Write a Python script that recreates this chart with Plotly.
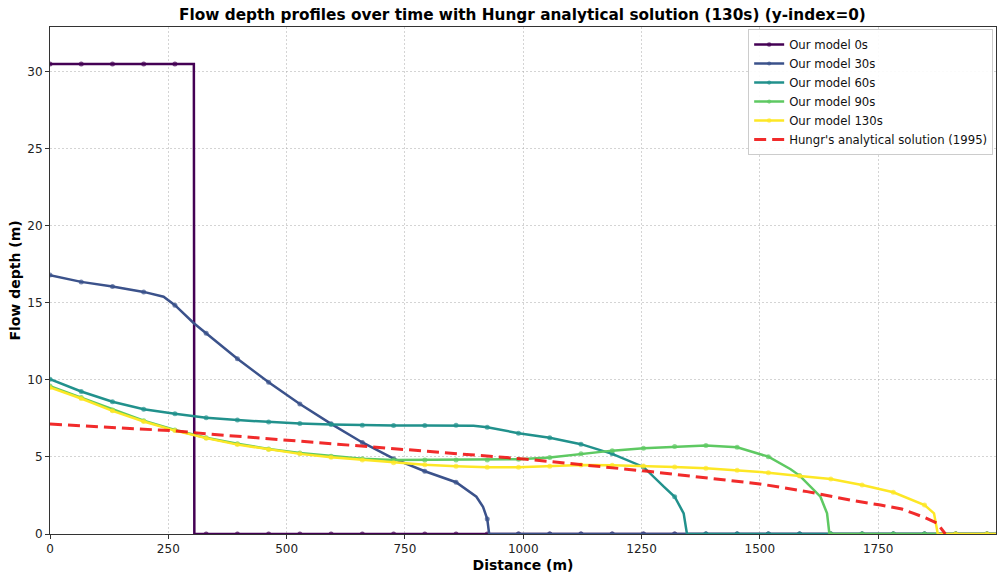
import plotly.graph_objects as go

# ---- data ----
ZERO_TAIL = [1056, 1122, 1188, 1254, 1320, 1386, 1452, 1518, 1584, 1650, 1716, 1782, 1848, 1914, 1980, 1999]

x_0s = [0, 66, 132, 198, 264, 304, 305, 330, 396, 462, 528, 594, 660, 726, 792, 858, 924, 990] + ZERO_TAIL
y_0s = [30.5, 30.5, 30.5, 30.5, 30.5, 30.5, 0, 0, 0, 0, 0, 0, 0, 0, 0, 0, 0, 0] + [0] * len(ZERO_TAIL)

x_30s = [0, 66, 132, 198, 240, 264, 304, 330, 396, 462, 528, 594, 660, 726, 792, 858, 901, 915, 924, 928, 990] + ZERO_TAIL
y_30s = [16.8, 16.36, 16.06, 15.71, 15.4, 14.85, 13.68, 13.03, 11.37, 9.85, 8.44, 7.15, 5.94, 4.89, 4.07, 3.36, 2.42, 1.77, 0.97, 0, 0] + [0] * len(ZERO_TAIL)

x_60s = [0, 66, 132, 198, 264, 330, 396, 462, 528, 594, 660, 726, 792, 858, 895, 924, 990, 1056, 1122, 1188, 1254, 1297, 1320, 1339, 1346,
         1386, 1452, 1518, 1584, 1650, 1716, 1782, 1848, 1914, 1980, 1999]
y_60s = [10.05, 9.25, 8.58, 8.10, 7.80, 7.54, 7.39, 7.26, 7.17, 7.10, 7.06, 7.04, 7.04, 7.06, 7.03, 6.93, 6.54, 6.24, 5.83, 5.2, 4.35, 3.07, 2.42, 1.34, 0,
         0, 0, 0, 0, 0, 0, 0, 0, 0, 0, 0]

x_90s = [0, 66, 132, 198, 264, 330, 396, 462, 528, 594, 660, 726, 792, 858, 924, 990, 1056, 1122, 1188, 1254, 1320, 1386, 1452, 1518, 1565, 1584,
         1628, 1642, 1647, 1650, 1716, 1782, 1848, 1914, 1980, 1999]
y_90s = [9.6, 8.85, 8.05, 7.35, 6.75, 6.25, 5.85, 5.52, 5.25, 5.05, 4.89, 4.81, 4.81, 4.81, 4.81, 4.85, 4.96, 5.2, 5.41, 5.57, 5.67, 5.74, 5.63, 5.02, 4.2, 3.79,
         2.42, 1.34, 0, 0, 0, 0, 0, 0, 0, 0]

x_130s = [0, 66, 132, 198, 264, 330, 396, 462, 528, 594, 660, 726, 792, 858, 924, 990, 1056, 1122, 1188, 1254, 1320, 1386, 1452, 1518, 1584, 1650,
          1716, 1782, 1848, 1868, 1876, 1914, 1980, 1999]
y_130s = [9.51, 8.79, 7.99, 7.30, 6.71, 6.22, 5.80, 5.48, 5.2, 4.98, 4.81, 4.63, 4.5, 4.40, 4.33, 4.33, 4.40, 4.48, 4.46, 4.42, 4.35, 4.26, 4.13, 3.98, 3.77, 3.57,
          3.18, 2.71, 1.88, 1.34, 0, 0, 0, 0]

x_hungr = [0, 130, 265, 331, 464, 595, 656, 800, 1001, 1269, 1400, 1500, 1600, 1650, 1700, 1755, 1800, 1825, 1850, 1875, 1892]
y_hungr = [7.13, 6.93, 6.69, 6.5, 6.17, 5.87, 5.74, 5.35, 4.87, 4.05, 3.62, 3.25, 2.75, 2.45, 2.15, 1.88, 1.62, 1.34, 1.05, 0.69, 0]

series_names = ["Our model 0s", "Our model 30s", "Our model 60s", "Our model 90s", "Our model 130s"]
series_colors = ["#440154", "#3b528b", "#21918c", "#5ec962", "#fde725"]

x_ticks = [0, 250, 500, 750, 1000, 1250, 1500, 1750]
y_ticks = [0, 5, 10, 15, 20, 25, 30]

MARK_STEP = 66


def marker_sizes(xs):
    out = []
    for v in xs:
        r = v / MARK_STEP
        out.append(5 if abs(r - round(r)) < 1e-6 and v <= 1980 else 0)
    return out


fig = go.Figure()
for xs, ys, name, col in zip([x_0s, x_30s, x_60s, x_90s, x_130s],
                             [y_0s, y_30s, y_60s, y_90s, y_130s],
                             series_names, series_colors):
    fig.add_trace(go.Scatter(
        x=xs, y=ys, name=name, mode="lines+markers",
        line=dict(color=col, width=2.5),
        marker=dict(color=col, size=marker_sizes(xs), line=dict(width=0)),
    ))

fig.add_trace(go.Scatter(
    x=x_hungr, y=y_hungr, name="Hungr's analytical solution (1995)", mode="lines",
    line=dict(color="rgba(240,20,20,0.9)", width=3, dash="12px,6px"),
))

font = "DejaVu Sans, Liberation Sans, Arial, sans-serif"
axis_common = dict(
    showline=True, linecolor="#333333", linewidth=1, mirror=True,
    ticks="outside", ticklen=4, tickcolor="#333333",
    showgrid=True, gridcolor="rgba(170,170,170,0.5)", griddash="2px,2px", gridwidth=1,
    zeroline=False, tickfont=dict(size=12, color="#222222", family=font),
    automargin=False,
)

fig.update_layout(
    width=999, height=577,
    margin=dict(l=50, r=3, t=27, b=43),
    paper_bgcolor="white", plot_bgcolor="white",
    font=dict(family=font, size=12, color="#111111"),
    title=dict(text="<b>Flow depth profiles over time with Hungr analytical solution (130s) (y-index=0)</b>",
               x=0.523, xanchor="center", y=0.975, yanchor="middle", font=dict(size=15.3, color="black"),
               automargin=False),
    xaxis=dict(range=[0, 1999], tickvals=x_ticks,
               title=dict(text="<b>Distance (m)</b>", font=dict(size=14, color="black"), standoff=4),
               **axis_common),
    yaxis=dict(range=[0, 32.9], tickvals=y_ticks,
               title=dict(text="<b>Flow depth (m)</b>", font=dict(size=14, color="black"), standoff=3),
               **axis_common),
    legend=dict(x=0.997, y=0.996, xanchor="right", yanchor="top",
                bgcolor="rgba(255,255,255,0.9)", bordercolor="#cccccc", borderwidth=1,
                font=dict(size=11.7, color="#111111"), itemsizing="trace",
                tracegroupgap=0, itemwidth=30),
    showlegend=True,
)

fig.write_html("out.html", config={"displayModeBar": False},
               post_script="document.body.style.margin='0';document.body.style.padding='0';")
